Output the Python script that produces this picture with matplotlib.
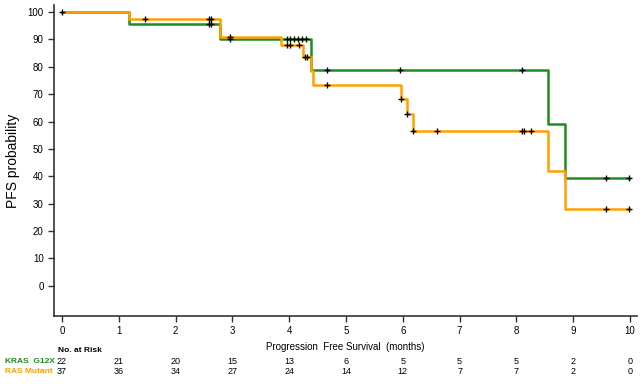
import numpy as np
import matplotlib.pyplot as plt

plt.rcParams['font.family'] = ['Liberation Sans', 'DejaVu Sans']

# Kaplan-Meier step data (time in months, survival in %)
kras_t = [0, 1.18, 2.79, 4.38, 8.56, 8.86, 9.98]
kras_s = [100, 95.5, 90.2, 78.8, 59.0, 39.4, 39.4]
kras_cens = [2.58, 2.62, 2.96, 3.96, 4.01, 4.08, 4.15, 4.22, 4.30, 4.67, 5.95, 8.10, 9.58, 9.98]

ras_t = [0, 1.18, 2.78, 3.85, 4.25, 4.38, 4.42, 5.96, 6.08, 6.18, 8.56, 8.86, 9.98]
ras_s = [100, 97.3, 91.0, 87.8, 83.5, 78.5, 73.3, 68.3, 62.8, 56.5, 42.1, 28.1, 28.1]
ras_cens = [0.0, 1.47, 2.58, 2.62, 2.96, 3.96, 4.01, 4.17, 4.27, 4.31, 4.67, 5.96, 6.08, 6.18,
            6.61, 8.10, 8.14, 8.26, 9.58, 9.98]

risk_times = [0, 1, 2, 3, 4, 5, 6, 7, 8, 9, 10]
kras_risk = [22, 21, 20, 15, 13, 6, 5, 5, 5, 2, 0]
ras_risk = [37, 36, 34, 27, 24, 14, 12, 7, 7, 2, 0]

green = '#1e8c1e'
orange = '#ffa000'


def surv_at(times, surv, x):
    i = np.searchsorted(times, x, side='right') - 1
    return np.array(surv)[i]


fig = plt.figure(figsize=(6.44, 3.88), dpi=100)
ax = fig.add_axes([0.0839, 0.1856, 0.905, 0.801])

ax.step(kras_t, kras_s, where='post', color=green, lw=1.8, zorder=2)
ax.step(ras_t, ras_s, where='post', color=orange, lw=1.8, zorder=3)
ax.plot(ras_cens, surv_at(ras_t, ras_s, ras_cens), '+', color='black', ms=5, mew=1, zorder=4)
ax.plot(kras_cens, surv_at(kras_t, kras_s, kras_cens), '+', color='black', ms=5, mew=1, zorder=4)

ax.set_xlim(-0.14, 10.12)
ax.set_ylim(-11, 102.5)
ax.set_xticks(risk_times)
ax.set_yticks(range(0, 101, 10))
ax.tick_params(labelsize=7, length=4, width=1, color='#333333')
ax.spines['top'].set_visible(False)
ax.spines['right'].set_visible(False)
for s in ['left', 'bottom']:
    ax.spines[s].set_color('#333333')
    ax.spines[s].set_linewidth(1.2)

ax.set_ylabel('PFS probability', fontsize=10)
ax.yaxis.set_label_coords(-0.058, 0.5)
ax.set_xlabel('Progression  Free Survival  (months)', fontsize=7, labelpad=4)

# numbers at risk table
trans = ax.get_xaxis_transform()
ax.text(-0.07, -0.11, 'No. at Risk', transform=trans, fontsize=6, fontweight='bold', ha='left', va='center')
ax.text(-1.0, -0.148, 'KRAS  G12X', transform=trans, fontsize=6, fontweight='bold', color=green,
        ha='left', va='center')
ax.text(-1.0, -0.18, 'RAS Mutant', transform=trans, fontsize=6, fontweight='bold', color=orange,
        ha='left', va='center')
for t, a, b in zip(risk_times, kras_risk, ras_risk):
    ax.text(t, -0.148, str(a), transform=trans, fontsize=6.5, ha='center', va='center')
    ax.text(t, -0.18, str(b), transform=trans, fontsize=6.5, ha='center', va='center')

fig.savefig('out.png', dpi=100)
